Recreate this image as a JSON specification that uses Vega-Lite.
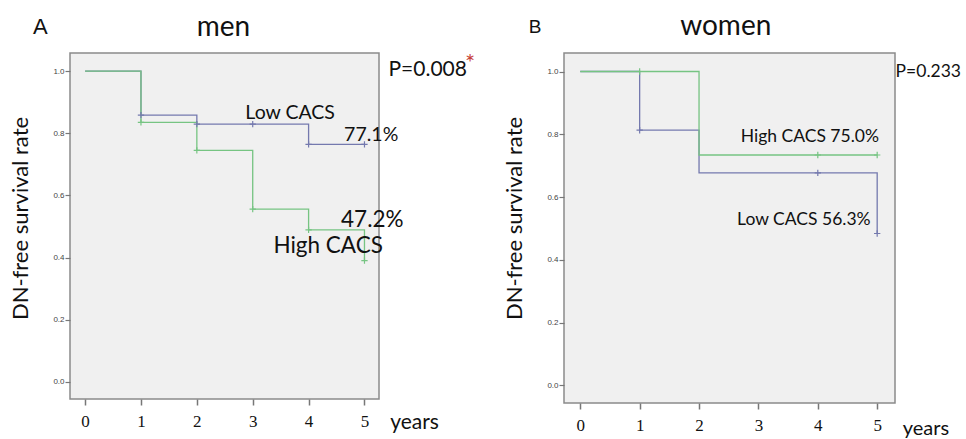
{
  "$schema": "https://vega.github.io/schema/vega-lite/v6.json",
  "background": "white",
  "padding": {"left": 9, "top": 12, "right": 0, "bottom": 0},
  "spacing": 26,
  "datasets": {
    "km": [
      {"panel": "A", "group": "Low CACS", "t": 0, "s": 1.0, "censored": false},
      {"panel": "A", "group": "Low CACS", "t": 1, "s": 0.858, "censored": true},
      {"panel": "A", "group": "Low CACS", "t": 2, "s": 0.829, "censored": true},
      {"panel": "A", "group": "Low CACS", "t": 3, "s": 0.829, "censored": true},
      {"panel": "A", "group": "Low CACS", "t": 4, "s": 0.764, "censored": true},
      {"panel": "A", "group": "Low CACS", "t": 5, "s": 0.764, "censored": true},
      {"panel": "A", "group": "High CACS", "t": 0, "s": 1.0, "censored": false},
      {"panel": "A", "group": "High CACS", "t": 1, "s": 0.835, "censored": true},
      {"panel": "A", "group": "High CACS", "t": 2, "s": 0.745, "censored": true},
      {"panel": "A", "group": "High CACS", "t": 3, "s": 0.556, "censored": true},
      {"panel": "A", "group": "High CACS", "t": 4, "s": 0.489, "censored": true},
      {"panel": "A", "group": "High CACS", "t": 5, "s": 0.39, "censored": true},
      {"panel": "B", "group": "Low CACS", "t": 0, "s": 1.0, "censored": false},
      {"panel": "B", "group": "Low CACS", "t": 1, "s": 0.813, "censored": true},
      {"panel": "B", "group": "Low CACS", "t": 2, "s": 0.677, "censored": false},
      {"panel": "B", "group": "Low CACS", "t": 4, "s": 0.677, "censored": true},
      {"panel": "B", "group": "Low CACS", "t": 5, "s": 0.484, "censored": true},
      {"panel": "B", "group": "High CACS", "t": 0, "s": 1.0, "censored": false},
      {"panel": "B", "group": "High CACS", "t": 1, "s": 1.0, "censored": true},
      {"panel": "B", "group": "High CACS", "t": 2, "s": 0.734, "censored": false},
      {"panel": "B", "group": "High CACS", "t": 4, "s": 0.734, "censored": true},
      {"panel": "B", "group": "High CACS", "t": 5, "s": 0.734, "censored": true}
    ],
    "notes": [
      {"panel": "A", "role": "letter", "t": -0.80, "s": 1.143, "label": "A"},
      {"panel": "A", "role": "title", "t": 2.477, "s": 1.14, "label": "men"},
      {"panel": "A", "role": "note", "t": 3.67, "s": 0.865, "label": "Low CACS"},
      {"panel": "A", "role": "note", "t": 5.12, "s": 0.794, "label": "77.1%"},
      {"panel": "A", "role": "noteBig", "t": 5.14, "s": 0.521, "label": "47.2%"},
      {"panel": "A", "role": "noteBig", "t": 4.35, "s": 0.437, "label": "High CACS"},
      {"panel": "A", "role": "pvalue", "t": 5.43, "s": 1.003, "label": "P=0.008"},
      {"panel": "A", "role": "star", "t": 6.80, "s": 1.023, "label": "*"},
      {"panel": "A", "role": "unit", "t": 5.46, "s": -0.132, "label": "years"},
      {"panel": "B", "role": "letter", "t": -0.76, "s": 1.142, "label": "B"},
      {"panel": "B", "role": "title", "t": 2.45, "s": 1.142, "label": "women"},
      {"panel": "B", "role": "note", "t": 3.866, "s": 0.791, "label": "High CACS 75.0%"},
      {"panel": "B", "role": "note", "t": 3.765, "s": 0.526, "label": "Low CACS 56.3%"},
      {"panel": "B", "role": "pvalue", "t": 5.31, "s": 0.998, "label": "P=0.233"},
      {"panel": "B", "role": "unit", "t": 5.43, "s": -0.14, "label": "years"}
    ]
  },
  "hconcat": [
    {
      "width": 309,
      "height": 346,
      "layer": [
        {
          "data": {"name": "km"},
          "transform": [{"filter": "datum.panel === 'A'"}],
          "mark": {"type": "line", "interpolate": "step-after", "strokeWidth": 1.3},
          "encoding": {
            "x": {"field": "t", "type": "quantitative",
                  "scale": {"domain": [-0.27, 5.26], "nice": false, "zero": false},
                  "axis": {"values": [0, 1, 2, 3, 4, 5], "format": "d", "title": null}},
            "y": {"field": "s", "type": "quantitative",
                  "scale": {"domain": [-0.055, 1.058], "nice": false, "zero": false},
                  "axis": {"values": [0, 0.2, 0.4, 0.6, 0.8, 1.0], "format": ".1f", "title": "DN-free survival rate", "titleY": 165}},
            "color": {"field": "group", "type": "nominal", "scale": {"domain": ["Low CACS", "High CACS"], "range": ["#7479ae", "#76c482"]}, "legend": null}
          }
        },
        {
          "data": {"name": "km"},
          "transform": [{"filter": "datum.panel === 'A' && datum.censored"}],
          "mark": {"type": "point", "shape": "M-1,0H1M0,-1V1", "size": 40, "strokeWidth": 1.2, "filled": false, "opacity": 1},
          "encoding": {
            "x": {"field": "t", "type": "quantitative"},
            "y": {"field": "s", "type": "quantitative"},
            "color": {"field": "group", "type": "nominal", "legend": null}
          }
        },
        {
          "data": {"name": "notes"},
          "transform": [{"filter": "datum.panel === 'A' && datum.role === 'letter'"}],
          "mark": {"type": "text", "font": "Liberation Sans", "fontSize": 22, "color": "#111", "align": "center", "baseline": "middle"},
          "encoding": {"x": {"field": "t", "type": "quantitative"}, "y": {"field": "s", "type": "quantitative"}, "text": {"field": "label"}}
        },
        {
          "data": {"name": "notes"},
          "transform": [{"filter": "datum.panel === 'A' && datum.role === 'title'"}],
          "mark": {"type": "text", "font": "Lato", "fontSize": 28, "color": "#111", "align": "center", "baseline": "middle"},
          "encoding": {"x": {"field": "t", "type": "quantitative"}, "y": {"field": "s", "type": "quantitative"}, "text": {"field": "label"}}
        },
        {
          "data": {"name": "notes"},
          "transform": [{"filter": "datum.panel === 'A' && datum.role === 'note'"}],
          "mark": {"type": "text", "font": "Lato", "fontSize": 19.5, "color": "#111", "align": "center", "baseline": "middle"},
          "encoding": {"x": {"field": "t", "type": "quantitative"}, "y": {"field": "s", "type": "quantitative"}, "text": {"field": "label"}}
        },
        {
          "data": {"name": "notes"},
          "transform": [{"filter": "datum.panel === 'A' && datum.role === 'noteBig'"}],
          "mark": {"type": "text", "font": "Lato", "fontSize": 22.5, "color": "#111", "align": "center", "baseline": "middle"},
          "encoding": {"x": {"field": "t", "type": "quantitative"}, "y": {"field": "s", "type": "quantitative"}, "text": {"field": "label"}}
        },
        {
          "data": {"name": "notes"},
          "transform": [{"filter": "datum.panel === 'A' && (datum.role === 'pvalue' || datum.role === 'unit')"}],
          "mark": {"type": "text", "font": "Lato", "fontSize": 21, "color": "#111", "align": "left", "baseline": "middle"},
          "encoding": {"x": {"field": "t", "type": "quantitative"}, "y": {"field": "s", "type": "quantitative"}, "text": {"field": "label"}}
        },
        {
          "data": {"name": "notes"},
          "transform": [{"filter": "datum.panel === 'A' && datum.role === 'star'"}],
          "mark": {"type": "text", "font": "Lato", "fontSize": 24, "color": "#c8433c", "align": "left", "baseline": "middle"},
          "encoding": {"x": {"field": "t", "type": "quantitative"}, "y": {"field": "s", "type": "quantitative"}, "text": {"field": "label"}}
        }
      ]
    },
    {
      "width": 331,
      "height": 350,
      "layer": [
        {
          "data": {"name": "km"},
          "transform": [{"filter": "datum.panel === 'B'"}],
          "mark": {"type": "line", "interpolate": "step-after", "strokeWidth": 1.3},
          "encoding": {
            "x": {"field": "t", "type": "quantitative",
                  "scale": {"domain": [-0.274, 5.3], "nice": false, "zero": false},
                  "axis": {"values": [0, 1, 2, 3, 4, 5], "format": "d", "title": null}},
            "y": {"field": "s", "type": "quantitative",
                  "scale": {"domain": [-0.056, 1.059], "nice": false, "zero": false},
                  "axis": {"values": [0, 0.2, 0.4, 0.6, 0.8, 1.0], "format": ".1f", "title": "DN-free survival rate", "titleY": 165}},
            "color": {"field": "group", "type": "nominal", "scale": {"domain": ["Low CACS", "High CACS"], "range": ["#7479ae", "#76c482"]}, "legend": null}
          }
        },
        {
          "data": {"name": "km"},
          "transform": [{"filter": "datum.panel === 'B' && datum.censored"}],
          "mark": {"type": "point", "shape": "M-1,0H1M0,-1V1", "size": 40, "strokeWidth": 1.2, "filled": false, "opacity": 1},
          "encoding": {
            "x": {"field": "t", "type": "quantitative"},
            "y": {"field": "s", "type": "quantitative"},
            "color": {"field": "group", "type": "nominal", "legend": null}
          }
        },
        {
          "data": {"name": "notes"},
          "transform": [{"filter": "datum.panel === 'B' && datum.role === 'letter'"}],
          "mark": {"type": "text", "font": "Liberation Sans", "fontSize": 19, "color": "#111", "align": "center", "baseline": "middle"},
          "encoding": {"x": {"field": "t", "type": "quantitative"}, "y": {"field": "s", "type": "quantitative"}, "text": {"field": "label"}}
        },
        {
          "data": {"name": "notes"},
          "transform": [{"filter": "datum.panel === 'B' && datum.role === 'title'"}],
          "mark": {"type": "text", "font": "Lato", "fontSize": 28, "color": "#111", "align": "center", "baseline": "middle"},
          "encoding": {"x": {"field": "t", "type": "quantitative"}, "y": {"field": "s", "type": "quantitative"}, "text": {"field": "label"}}
        },
        {
          "data": {"name": "notes"},
          "transform": [{"filter": "datum.panel === 'B' && datum.role === 'note'"}],
          "mark": {"type": "text", "font": "Lato", "fontSize": 17.5, "color": "#111", "align": "center", "baseline": "middle"},
          "encoding": {"x": {"field": "t", "type": "quantitative"}, "y": {"field": "s", "type": "quantitative"}, "text": {"field": "label"}}
        },
        {
          "data": {"name": "notes"},
          "transform": [{"filter": "datum.panel === 'B' && datum.role === 'pvalue'"}],
          "mark": {"type": "text", "font": "Lato", "fontSize": 17.5, "color": "#111", "align": "left", "baseline": "middle"},
          "encoding": {"x": {"field": "t", "type": "quantitative"}, "y": {"field": "s", "type": "quantitative"}, "text": {"field": "label"}}
        },
        {
          "data": {"name": "notes"},
          "transform": [{"filter": "datum.panel === 'B' && datum.role === 'unit'"}],
          "mark": {"type": "text", "font": "Lato", "fontSize": 20, "color": "#111", "align": "left", "baseline": "middle"},
          "encoding": {"x": {"field": "t", "type": "quantitative"}, "y": {"field": "s", "type": "quantitative"}, "text": {"field": "label"}}
        }
      ]
    }
  ],
  "config": {
    "view": {"fill": "#f0f0f0", "stroke": "#8a8a8a", "strokeWidth": 1.5},
    "axisX": {
      "domain": false, "grid": false,
      "labelFont": "Liberation Serif", "labelFontSize": 17, "labelColor": "#111",
      "labelPadding": 8, "tickSize": 6, "tickColor": "#777", "tickWidth": 1.5
    },
    "axisY": {
      "domain": false, "grid": false,
      "labelFont": "Liberation Sans", "labelFontSize": 8, "labelColor": "#444",
      "labelPadding": 1, "tickSize": 5, "tickColor": "#777", "tickWidth": 1.2,
      "titleFont": "Lato", "titleFontSize": 22, "titleFontWeight": "normal", "titleColor": "#111", "titlePadding": 20
    }
  }
}
